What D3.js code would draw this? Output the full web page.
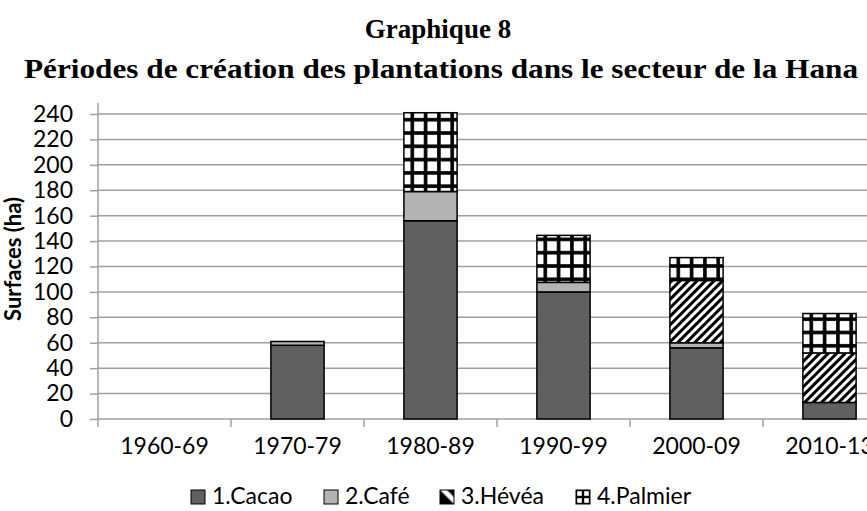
<!DOCTYPE html>
<html>
<head>
<meta charset="utf-8">
<script src="https://cdn.jsdelivr.net/npm/d3@7"></script>
<style>
  body { margin: 0; background: #fff; overflow: hidden; }
  svg { display: block; }
</style>
</head>
<body>
<svg class="target"></svg>
<script>
const periods = ["1960-69", "1970-79", "1980-89", "1990-99", "2000-09", "2010-13"];
const cacao   = [0, 58, 156, 100, 56, 13];
const cafe    = [0, 3, 23, 7.5, 4, 0];
const hevea   = [0, 0, 0, 0, 49, 39];
const palmier = [0, 0, 62, 37, 18, 31];
const seriesNames = ["1.Cacao", "2.Café", "3.Hévéa", "4.Palmier"];
const yTicks = [0, 20, 40, 60, 80, 100, 120, 140, 160, 180, 200, 220, 240];

document.addEventListener("DOMContentLoaded", function() {
    drawChart();
});

function drawChart() {
    const width = 867;
    const height = 511;
    const margin = {left: 98, right: -29, top: 114, bottom: 92};
    const font = "Lato, 'Open Sans', sans-serif";

    const svg = d3.select(".target")
        .attr("width", width)
        .attr("height", height);

    const defs = svg.append("defs");

    // grid pattern for palmier
    const grid = defs.append("pattern")
        .attr("id", "pat-palm")
        .attr("patternUnits", "userSpaceOnUse")
        .attr("width", 13.3).attr("height", 13.3);
    grid.append("rect").attr("width", 13.3).attr("height", 13.3).attr("fill", "#000");
    grid.append("rect").attr("x", 1.8).attr("y", 1.8).attr("width", 9.7).attr("height", 9.7).attr("fill", "#fff");

    // diagonal stripes for hevea
    const stripes = defs.append("pattern")
        .attr("id", "pat-hev")
        .attr("patternUnits", "userSpaceOnUse")
        .attr("width", 6).attr("height", 6)
        .attr("patternTransform", "rotate(45)");
    stripes.append("rect").attr("width", 6).attr("height", 6).attr("fill", "#fff");
    stripes.append("rect").attr("width", 3).attr("height", 6).attr("fill", "#000");

    // small grid for the legend
    const gridS = defs.append("pattern")
        .attr("id", "pat-palm-s")
        .attr("patternUnits", "userSpaceOnUse")
        .attr("width", 7).attr("height", 7);
    gridS.append("rect").attr("width", 7).attr("height", 7).attr("fill", "#000");
    gridS.append("rect").attr("x", 1.2).attr("y", 1.2).attr("width", 4.6).attr("height", 4.6).attr("fill", "#fff");

    // half-diagonal for hevea legend
    const hevS = defs.append("linearGradient")
        .attr("id", "grad-hev")
        .attr("x1", 0).attr("y1", 1).attr("x2", 1).attr("y2", 0);
    hevS.append("stop").attr("offset", "0.45").attr("stop-color", "#000");
    hevS.append("stop").attr("offset", "0.55").attr("stop-color", "#fff");
    hevS.append("stop").attr("offset", "0.7").attr("stop-color", "#fff");
    hevS.append("stop").attr("offset", "0.8").attr("stop-color", "#000");

    const fills = ["#606060", "#b3b3b3", "url(#pat-hev)", "url(#pat-palm)"];
    const legendFills = ["#606060", "#b3b3b3", "url(#grad-hev)", "url(#pat-palm-s)"];

    const data = periods.map(function(p, i) {
        return {period: p, "1.Cacao": cacao[i], "2.Café": cafe[i], "3.Hévéa": hevea[i], "4.Palmier": palmier[i]};
    });
    const stacked = d3.stack().keys(seriesNames)(data);

    const x = d3.scaleBand()
        .domain(periods)
        .range([margin.left, width - margin.right])
        .paddingInner(0.6)
        .paddingOuter(0.3);

    const y = d3.scaleLinear()
        .domain([0, 240])
        .range([height - margin.bottom, margin.top]);

    // titles
    svg.append("text")
        .attr("x", 438).attr("y", 38)
        .attr("text-anchor", "middle")
        .style("font-family", "'Liberation Serif', serif")
        .style("font-weight", "bold")
        .style("font-size", "27px")
        .text("Graphique 8");
    svg.append("text")
        .attr("x", 24).attr("y", 78)
        .attr("textLength", 834)
        .attr("lengthAdjust", "spacingAndGlyphs")
        .style("font-family", "'Liberation Serif', serif")
        .style("font-weight", "bold")
        .style("font-size", "28px")
        .text("Périodes de création des plantations dans le secteur de la Hana");

    // gridlines
    svg.append("g")
        .selectAll("line")
        .data(yTicks.slice(1))
        .enter()
        .append("line")
        .attr("x1", margin.left).attr("x2", width)
        .attr("y1", d => y(d)).attr("y2", d => y(d))
        .attr("stroke", "#a0a0a0")
        .attr("stroke-width", 1.5);

    // y axis
    const yAxis = svg.append("g")
        .attr("transform", "translate(" + margin.left + ",0)")
        .call(d3.axisLeft(y).tickValues(yTicks).tickSize(8).tickPadding(17));
    yAxis.selectAll("line").attr("stroke", "#a0a0a0").attr("stroke-width", 1.5);
    yAxis.select(".domain").attr("stroke", "#a0a0a0").attr("stroke-width", 1.5)
        .attr("d", "M0," + (y(240) - 11) + "V" + y(0));
    yAxis.selectAll("text")
        .style("font-family", font)
        .style("font-size", "23px")
        .attr("fill", "#000");

    // x axis
    const step = x.step();
    const bounds = periods.map(p => x(p) - (step - x.bandwidth()) / 2);
    const xAxisG = svg.append("g").attr("transform", "translate(0," + y(0) + ")");
    xAxisG.append("line")
        .attr("x1", margin.left).attr("x2", width)
        .attr("stroke", "#a0a0a0").attr("stroke-width", 1.5);
    xAxisG.selectAll(".tk")
        .data(bounds.concat([bounds[bounds.length - 1] + step]))
        .enter()
        .append("line")
        .attr("class", "tk")
        .attr("x1", d => d).attr("x2", d => d)
        .attr("y1", 0).attr("y2", 8)
        .attr("stroke", "#a0a0a0").attr("stroke-width", 1.5);
    xAxisG.selectAll("text")
        .data(periods)
        .enter()
        .append("text")
        .attr("x", d => x(d) + x.bandwidth() / 2)
        .attr("y", 35)
        .attr("text-anchor", "middle")
        .style("font-family", font)
        .style("font-size", "23px")
        .text(d => d);

    // y label
    svg.append("text")
        .attr("transform", "translate(21," + 259 + ") rotate(-90)")
        .attr("text-anchor", "middle")
        .style("font-family", font)
        .style("font-weight", "bold")
        .style("font-size", "22px")
        .text("Surfaces (ha)");

    // bars
    svg.append("g")
        .selectAll("g")
        .data(stacked)
        .enter()
        .append("g")
        .attr("fill", (d, i) => fills[i])
        .selectAll("rect")
        .data(d => d.filter(v => v[1] - v[0] > 0))
        .enter()
        .append("rect")
        .attr("x", d => x(d.data.period))
        .attr("width", x.bandwidth())
        .attr("y", d => y(d[1]))
        .attr("height", d => y(d[0]) - y(d[1]))
        .attr("stroke", "#000")
        .attr("stroke-width", 1.5);

    // legend
    const legendX = [191, 324, 440, 576];
    const legend = svg.append("g").selectAll("g")
        .data(seriesNames)
        .enter()
        .append("g")
        .attr("transform", (d, i) => "translate(" + legendX[i] + ",490)");
    legend.append("rect")
        .attr("width", 14).attr("height", 14)
        .attr("fill", (d, i) => legendFills[i])
        .attr("stroke", "#000").attr("stroke-width", 1);
    legend.append("text")
        .attr("x", 21).attr("y", 14)
        .style("font-family", font)
        .style("font-size", "23px")
        .text(d => d);
}
</script>
</body>
</html>
